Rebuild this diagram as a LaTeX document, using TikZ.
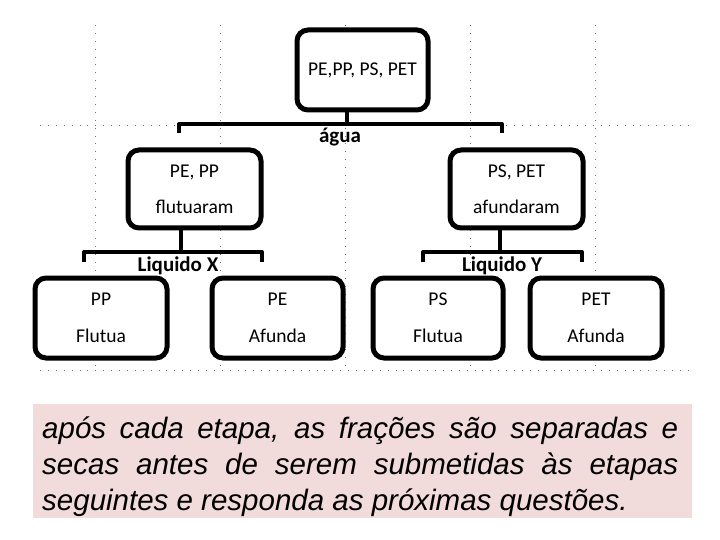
\documentclass[tikz,border=0pt]{standalone}
\usepackage{fontspec}
\setmainfont{Carlito}
\newfontfamily\arialfont{Liberation Sans}
\definecolor{pinkbg}{HTML}{F2DCDB}
\definecolor{gridgray}{gray}{0.45}
\begin{document}
\begin{tikzpicture}[x=1pt,y=-1pt,
  boxst/.style={draw=black,line width=5pt,rounded corners=11pt,fill=white,
    align=center,inner sep=0pt,font=\fontsize{19.5}{23}\selectfont},
  linkst/.style={line width=4pt,line cap=butt},
  lblst/.style={font=\bfseries\fontsize{21}{24}\selectfont,inner sep=0pt},
  gridst/.style={gridgray,line width=0.9pt,dash pattern=on 0.9pt off 7pt}]
\useasboundingbox (0,0) rectangle (720,540);
% faint canvas grid
\foreach \gx in {95,220,345,470,595}{\draw[gridst] (\gx,25) -- (\gx,372);}
\draw[gridst] (40,125) -- (690,125);
\draw[gridst] (40,370) -- (690,370);
% boxes
\node[boxst,minimum width=131pt,minimum height=80pt] (top) at (362.5,70) {PE,PP, PS, PET};
\node[boxst,minimum width=133pt,minimum height=78pt] (ml) at (194.5,189) {PE, PP\\[13pt]flutuaram};
\node[boxst,minimum width=133pt,minimum height=78pt] (mr) at (516.5,189) {PS, PET\\[13pt]afundaram};
\node[boxst,minimum width=132pt,minimum height=80pt] (b1) at (101,318) {PP\\[14pt]Flutua};
\node[boxst,minimum width=131pt,minimum height=80pt] (b2) at (277.5,318) {PE\\[14pt]Afunda};
\node[boxst,minimum width=130pt,minimum height=80pt] (b3) at (438,318) {PS\\[14pt]Flutua};
\node[boxst,minimum width=132pt,minimum height=80pt] (b4) at (596,318) {PET\\[14pt]Afunda};
% top bracket
\coordinate (tb) at (347,124);
\coordinate (tl) at (179,133);
\coordinate (tr) at (502,133);
\draw[linkst] (top.south -| tb) -- (tb);
\draw[linkst,line join=round] (tl) -- ++(0,-9) -| (tr);
\node[lblst] (agua) at (340,137) {água};
% left bracket
\coordinate (lb) at (181,252);
\coordinate (ll) at (84,262);
\coordinate (lr) at (262,262);
\draw[linkst] (ml.south -| lb) -- (lb);
\draw[linkst,line join=round] (ll) -- ++(0,-10) -| (lr);
\node[lblst] (lqx) at (178,266) {Liquido X};
% right bracket
\coordinate (rb) at (500,252);
\coordinate (rl) at (423,262);
\coordinate (rr) at (582,262);
\draw[linkst] (mr.south -| rb) -- (rb);
\draw[linkst,line join=round] (rl) -- ++(0,-10) -| (rr);
\node[lblst] (lqy) at (502,266) {Liquido Y};
% caption
\fill[pinkbg] (33,404) rectangle (692,518);
\node[anchor=north west,inner sep=0pt,text width=636pt,align=justify,
  font=\arialfont\itshape\fontsize{29.5}{36}\selectfont] (cap) at (42,417)
  {\hyphenpenalty=10000\exhyphenpenalty=10000 após cada etapa, as frações são separadas e secas antes de serem submetidas às etapas seguintes e responda as próximas questões.};
\end{tikzpicture}
\end{document}
